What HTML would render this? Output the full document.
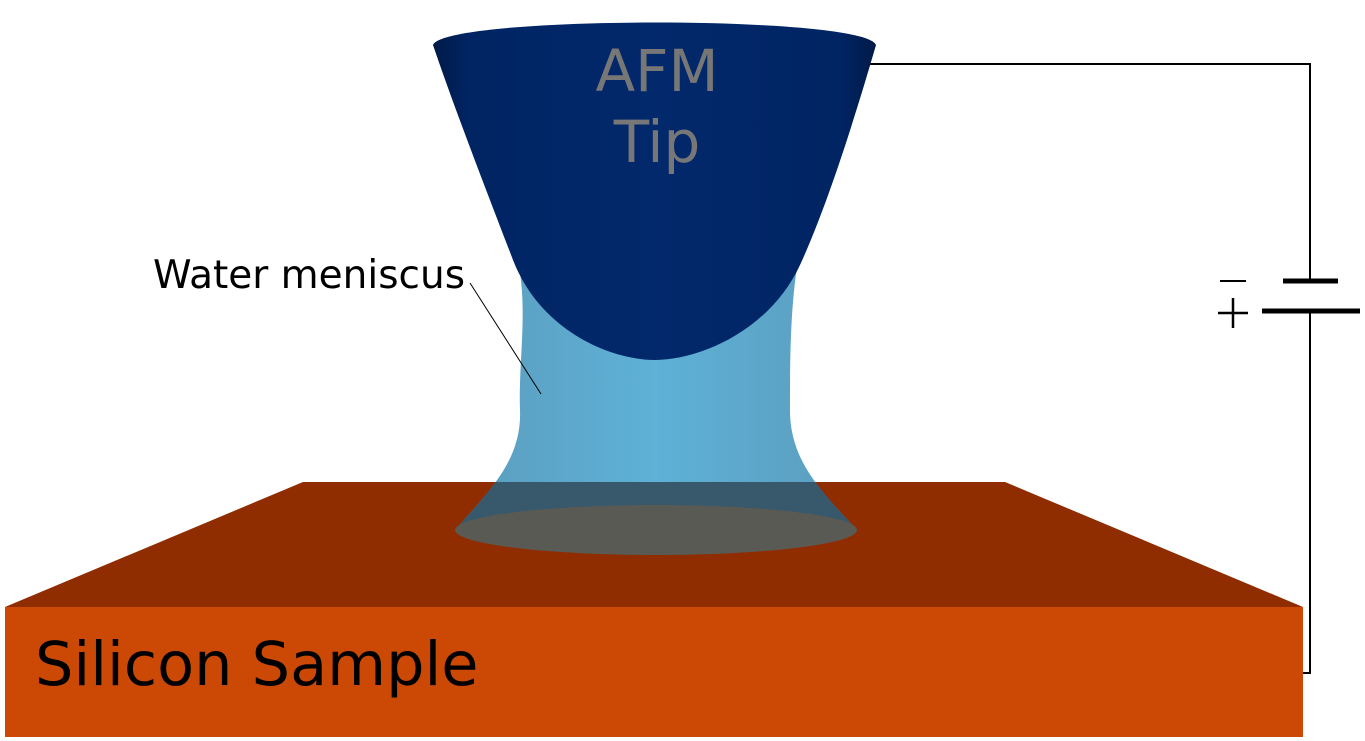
<!DOCTYPE html>
<html><head><style>
html,body{margin:0;padding:0;background:#fff;}
svg{display:block;}
</style></head><body>
<svg width="1365" height="741" viewBox="0 0 1365 741" xmlns="http://www.w3.org/2000/svg">
<defs>
<linearGradient id="tip" x1="0" x2="1" y1="0" y2="0">
<stop offset="0" stop-color="#001a48"/><stop offset="0.08" stop-color="#012462"/>
<stop offset="0.5" stop-color="#02296c"/><stop offset="0.92" stop-color="#012462"/><stop offset="1" stop-color="#001a48"/>
</linearGradient>
<linearGradient id="men" x1="0" x2="1" y1="0" y2="0">
<stop offset="0" stop-color="#5a9cbd"/><stop offset="0.5" stop-color="#5fb1d7"/><stop offset="1" stop-color="#5a9cbd"/>
</linearGradient>
<clipPath id="topface"><polygon points="5,607 303,482 1005,482 1303,607"/></clipPath>
</defs>
<polyline points="870,64 1310,64 1310,281" fill="none" stroke="#000" stroke-width="2"/>
<polyline points="1310,311 1310,673 1300,673" fill="none" stroke="#000" stroke-width="2"/>
<line x1="1283" y1="281" x2="1338" y2="281" stroke="#000" stroke-width="5"/>
<line x1="1262" y1="311" x2="1360" y2="311" stroke="#000" stroke-width="5"/>
<line x1="1220" y1="281" x2="1246" y2="281" stroke="#000" stroke-width="2"/>
<line x1="1218" y1="313" x2="1248" y2="313" stroke="#000" stroke-width="2.5"/>
<line x1="1233" y1="298" x2="1233" y2="328" stroke="#000" stroke-width="2.5"/>
<polygon points="5,607 303,482 1005,482 1303,607" fill="#8f2c00"/>
<rect x="5" y="607" width="1298" height="130" fill="#cc4905"/>
<text x="35" y="685" font-family="DejaVu Sans, Liberation Sans, sans-serif" font-size="60.5" fill="#000">Silicon Sample</text>
<path d="M515,250 C530,300 518,360 520,410 C522,460 490,490 455,530 A202,25 0 0 0 857,530 C820,490 790,460 790,410 C790,360 790,300 800,250 Z" fill="url(#men)"/>
<g clip-path="url(#topface)">
<path d="M515,250 C530,300 518,360 520,410 C522,460 490,490 455,530 A202,25 0 0 0 857,530 C820,490 790,460 790,410 C790,360 790,300 800,250 Z" fill="#37596b"/>
</g>
<ellipse cx="656" cy="530" rx="201" ry="25" fill="#5a5a55"/>
<path d="M433,45 C445,15 865,15 876,45 C860,100 830,200 800,265 C770,330 700,360 655,360 C610,360 540,330 513,260 C490,200 455,110 433,45 Z" fill="url(#tip)"/>
<text x="657" y="91" font-family="DejaVu Sans, Liberation Sans, sans-serif" font-size="58" fill="#777" text-anchor="middle">AFM</text>
<text x="657" y="162" font-family="DejaVu Sans, Liberation Sans, sans-serif" font-size="58" fill="#777" text-anchor="middle">Tip</text>
<text x="153" y="288" font-family="DejaVu Sans, Liberation Sans, sans-serif" font-size="39" fill="#000">Water meniscus</text>
<line x1="470" y1="283" x2="541" y2="394" stroke="#000" stroke-width="1"/>
</svg>
</body></html>
